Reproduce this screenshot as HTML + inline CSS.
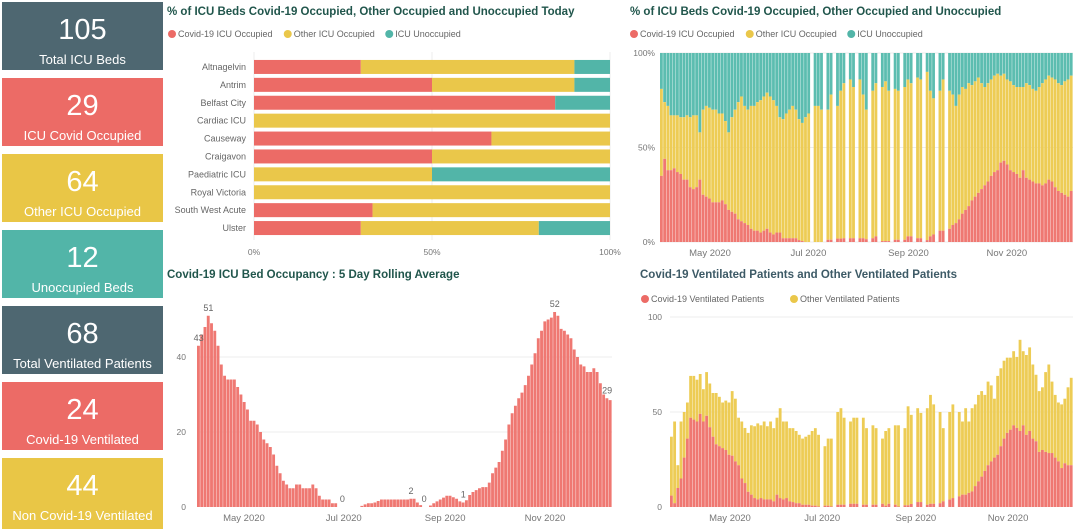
<!DOCTYPE html>
<html><head><meta charset="utf-8">
<style>
html,body{margin:0;padding:0;background:#fff;width:1080px;height:529px;overflow:hidden;font-family:"Liberation Sans",sans-serif}
.card{position:absolute;left:2px;width:161px;color:#fff;text-align:center}
.card .num{position:absolute;left:0;right:0;top:12px;font-size:29px;line-height:32px}
.card .lbl{position:absolute;left:0;right:0;top:50px;font-size:13px;line-height:16px;white-space:nowrap}
svg{position:absolute;left:0;top:0}
</style></head><body>
<div class="card" style="top:2px;height:68px;background:#4e6771"><div class="num">105</div><div class="lbl">Total ICU Beds</div></div>
<div class="card" style="top:78px;height:68px;background:#ec6b66"><div class="num">29</div><div class="lbl">ICU Covid Occupied</div></div>
<div class="card" style="top:154px;height:68px;background:#e9c646"><div class="num">64</div><div class="lbl">Other ICU Occupied</div></div>
<div class="card" style="top:230px;height:68px;background:#52b5a8"><div class="num">12</div><div class="lbl">Unoccupied Beds</div></div>
<div class="card" style="top:306px;height:68px;background:#4e6771"><div class="num">68</div><div class="lbl">Total Ventilated Patients</div></div>
<div class="card" style="top:382px;height:68px;background:#ec6b66"><div class="num">24</div><div class="lbl">Covid-19 Ventilated</div></div>
<div class="card" style="top:458px;height:71px;background:#e9c646"><div class="num">44</div><div class="lbl">Non Covid-19 Ventilated</div></div>

<svg id="s" width="1080" height="529">
<g font-family="Liberation Sans, sans-serif">
<text x="167" y="15" font-size="11.5" font-weight="bold" fill="#21564c">% of ICU Beds Covid-19 Occupied, Other Occupied and Unoccupied Today</text>
<text x="630" y="15" font-size="11.5" font-weight="bold" fill="#21564c">% of ICU Beds Covid-19 Occupied, Other Occupied and Unoccupied</text>
<text x="167" y="278" font-size="11.5" font-weight="bold" fill="#21564c">Covid-19 ICU Bed Occupancy : 5 Day Rolling Average</text>
<text x="640" y="278" font-size="11.5" font-weight="bold" fill="#3d5a66">Covid-19 Ventilated Patients and Other Ventilated Patients</text>
</g>
</svg>
<script>
// ---------- data ----------
const hospitals=['Altnagelvin','Antrim','Belfast City','Cardiac ICU','Causeway','Craigavon','Paediatric ICU','Royal Victoria','South West Acute','Ulster'];
const todayCovid=[30,50,84.6,0,66.7,50,0,0,33.3,30];
const todayOther=[60,40,0,100,33.3,50,50,100,66.7,50];
const todayUnocc=[10,10,15.4,0,0,0,50,0,0,20];
const pctTicks=['0%','50%','100%'];
const pctTickVals=[0,50,100];

const monthLabels=['May 2020','Jul 2020','Sep 2020','Nov 2020'];
const monthDays=[121,182,244,305];

const rollAvg=[43,46,48,51,49,47,43,38,35,34,34,34,32,30,28,26,23,23,22,20,18,17,16,14,11,9,7,6,5,5,6,6,5,5,5,6,5,3,2,2,2,1,1,0,0,0,0,0,0,0,0.3,0.7,1,1,1.2,1.6,2,2,2,2,2,2,2,2,2,2.2,2.2,1.2,0.5,0,0,0.4,1,1.5,2,2.5,3,3,2.6,2.2,1.5,1.2,1.8,3.2,4,4.5,5,5.3,5.3,6.5,9,10.5,12,15,18,22,25,27,29,30.5,32.5,35,38,41,45,47,49.5,50,50.5,52,51,47.5,47,46,45,42,40,38,37.5,36,36,37,36,33,30,29,28.5];
const rollLabelIdx=[0,3,44,65,69,81,109,125];
const rollLabelText=['43','51','0','2','0','1','52','29'];
const rollTicks=[0,20,40];

const covidPct=[35,44,38,38,39,37,36,33,33,29,28,29,33,25,24,23,21,21,21,22,20,17,16,15,12,11,10,9,7,6,6,5,6,7,5,4,5,5,2,2,2,2,2,1,0.5,0,0,null,0,0,0,null,1.2,1.2,null,1.8,1.8,2,null,2,2,null,2,2,1.5,null,2,3,null,0.5,0.5,0.5,null,1.2,1.2,null,1.2,3,3,null,2,2,null,1,3,4,null,6,6,null,7,9,10,12,15,17,19,22,24,26,28,30,32,35,37,38,42,43,41,38,37,36,34,38,34,33,32,31,31,30,31,33,32,29,27,26,25,24,27];
const otherPct=[46,30,34,29,28,30,30,33,34,37,39,38,25,45,48,48,49,49,47,46,44,41,50,55,62,66,62,61,65,66,68,70,71,72,72,71,67,61,63,66,68,70,68,64,62.5,66,68,null,72,72,70,null,68.8,76.8,null,70.2,78.2,82,null,84,80,null,84,76,68.5,null,78,81,null,81.5,84.5,79.5,null,79.8,78.8,null,80.8,83,81,null,85,84,null,89,77,72,null,74,80,null,73,69,62,66,67,64,65,61,61,61,56,52,52,51,51,51,46,46,45,47,46,46,48,44,50,50,49,49,51,54,55,55,55,57,57,57,60,62,61];
const pctAxisTicks=['0%','50%','100%'];

const ventCovid=[6,2,10,15,26,36,47,46,45,49,45,48,42,37,33,32,31,30,27.5,27,24,22,15,12.6,8,6.5,4.7,4,4.7,4,4,4,3,6.5,4.7,4,4.7,3,2.6,2,2,1.2,1.2,1.2,0.7,0.7,0.3,null,0.7,0.7,0.3,null,1.2,1.2,1.2,null,1.7,1.7,1.7,null,1.2,1.2,null,1.2,1.2,null,1.7,0.7,1.7,null,1.2,0.3,null,0.9,0.9,1.6,null,2.6,2.6,null,1.2,1.7,1.7,null,2,3,null,3.9,4.7,null,5.6,6.5,6.5,7.4,8.2,11,13.5,16,19,22,24,26,27.5,32,36,39,40.7,43,41.6,40,43,38,40,36,34.6,29,30,29,28.4,28.4,26,24,20.5,23,22,22];
const ventOther=[31,43,12,30,24,19,22,23,22,21,17,23,23,23,27,26,24,26,27.5,34,33,25,30,29,31,36.5,37.8,40,38.3,41,38.5,41,38.5,40.5,47.3,41,40.3,38.5,38.9,38,36,34.8,35.8,36.8,39.3,40.8,37.7,null,31.3,35.3,35.7,null,48.8,50.8,45.8,null,43.3,45.3,45.3,null,45.8,40.3,null,41.8,40.3,null,34.3,39.3,39.8,null,41.8,42.7,null,40.6,52.1,46.9,null,49.4,46.9,null,50.8,57.3,52.3,null,48,38.5,null,46.1,49.3,null,44.4,38.5,45.5,37.6,43.8,43,45.5,45,40,44,40,31,41.5,41,41,39.6,37.9,39,37.4,48,39,42,44,39,35,32,33,42,46.6,37.6,33,31,33.5,34,41,46];
const ventTicks=[0,50,100];

// ---------- helpers ----------
const NS='http://www.w3.org/2000/svg';
const svg=document.getElementById('s');
const RED='#ec6b66', YEL='#eac74a', TEAL='#52b5a8', GRID='#ececec', LBL='#777';
function el(tag,parent){const e=document.createElementNS(NS,tag);(parent||svg).appendChild(e);return e;}
function rect(x,y,w,h,fill,parent){const r=el('rect',parent);r.setAttribute('x',x);r.setAttribute('y',y);r.setAttribute('width',Math.max(0,w));r.setAttribute('height',Math.max(0,h));r.setAttribute('fill',fill);return r;}
function txt(x,y,s,size,fill,anchor,parent){const t=el('text',parent);t.setAttribute('x',x);t.setAttribute('y',y);t.setAttribute('font-size',size);t.setAttribute('fill',fill);t.setAttribute('text-anchor',anchor||'start');t.setAttribute('font-family','Liberation Sans, sans-serif');t.textContent=s;return t;}
function line(x1,y1,x2,y2,stroke,parent){const l=el('line',parent);l.setAttribute('x1',x1);l.setAttribute('y1',y1);l.setAttribute('x2',x2);l.setAttribute('y2',y2);l.setAttribute('stroke',stroke);l.setAttribute('stroke-width',1);return l;}
function legend(x,y,items,colors){
  let cx=x;
  for(let i=0;i<items.length;i++){
    const c=el('circle');c.setAttribute('cx',cx+4);c.setAttribute('cy',y-3);c.setAttribute('r',4);c.setAttribute('fill',colors[i]);
    
    
    const t=txt(cx+10,y,items[i],9,'#666');
    
    
    cx+=10+items[i].length*4.75+6;
  }
}
function dayScale(d0,d1,x0,x1){return d=>x0+(d-d0)/(d1-d0)*(x1-x0);}
function monthAxis(xs,y){
  for(let i=0;i<monthLabels.length;i++){
    const t=txt(xs(monthDays[i]),y,monthLabels[i],9.5,LBL,'middle');
    
    
  }
}

// ---------- chart 1: today horizontal stacked ----------
legend(168,37,['Covid-19 ICU Occupied','Other ICU Occupied','ICU Unoccupied'],[RED,YEL,TEAL]);
const hx0=254,hx1=610,hy0=58,hstep=17.9,hbh=14;
const hxs=v=>hx0+v/100*(hx1-hx0);
for(let i=0;i<pctTickVals.length;i++){
  const g=line(hxs(pctTickVals[i]),52,hxs(pctTickVals[i]),240,GRID);
  
  
  const t=txt(hxs(pctTickVals[i]),255,pctTicks[i],8.5,LBL,'middle');
  
  
}
for(let i=0;i<hospitals.length;i++){
  const cy=hy0+i*hstep+hstep/2;
  const t=txt(246,cy+3,hospitals[i],9,'#666','end');
  
  
  let acc=0;
  const segs=[todayCovid[i],todayOther[i],todayUnocc[i]], cols=[RED,YEL,TEAL], nm=['covid','other','unoccupied'];
  for(let k=0;k<3;k++){
    if(segs[k]>0){
      const r=rect(hxs(acc),cy-hbh/2,hxs(acc+segs[k])-hxs(acc),hbh,cols[k]);
      
      
    }
    acc+=segs[k];
  }
}

// ---------- chart 2: % trend stacked ----------
legend(630,37,['Covid-19 ICU Occupied','Other ICU Occupied','ICU Unoccupied'],[RED,YEL,TEAL]);
const px0=660,px1=1073,py0=242,py1=53;
const pys=v=>py0+(py1-py0)*v/100;
const pxs=dayScale(90,346,px0,px1);
for(let i=0;i<pctAxisTicks.length;i++){
  const v=pctTickVals[i];
  const g=line(px0,pys(v),px1,pys(v),GRID);
  
  
  const t=txt(655,pys(v)+3,pctAxisTicks[i],8.5,LBL,'end');
  
  
}
{
  const n=covidPct.length, bw=(px1-px0)/n;
  for(let i=0;i<n;i++){
    if(covidPct[i]===null) continue;
    const x=px0+i*bw, w=bw*0.88;
    const u=rect(x,pys(100),w,pys(covidPct[i]+otherPct[i])-pys(100),'#5cbdb0');
    
    
    const o=rect(x,pys(covidPct[i]+otherPct[i]),w,pys(covidPct[i])-pys(covidPct[i]+otherPct[i]),'#edcc55');
    
    
    const c=rect(x,pys(covidPct[i]),w,pys(0)-pys(covidPct[i]),'#ef7872');
    
    
  }
}
monthAxis(pxs,256);

// ---------- chart 3: rolling average ----------
const rx0=197,rx1=612,ry0=507;
const rys=v=>ry0-v*3.75;
const rxs=dayScale(92.3,346,rx0,rx1);
for(let i=0;i<rollTicks.length;i++){
  if(rollTicks[i]>0){
    const g=line(rx0,rys(rollTicks[i]),rx1,rys(rollTicks[i]),GRID);
    
    
  }
  const t=txt(186,rys(rollTicks[i])+3,String(rollTicks[i]),8.5,LBL,'end');
  
  
}
{
  const n=rollAvg.length, bw=(rx1-rx0)/n;
  for(let i=0;i<n;i++){
    const r=rect(rx0+i*bw,rys(rollAvg[i]),bw*0.88,rys(0)-rys(rollAvg[i]),'#ef7872');
    
    
  }
  for(let k=0;k<rollLabelIdx.length;k++){
    const i=rollLabelIdx[k];
    const t=txt(rx0+(i+0.5)*bw,rys(rollAvg[i])-5,rollLabelText[k],9,'#666','middle');
    
    
  }
}
monthAxis(rxs,521);

// ---------- chart 4: ventilated ----------
legend(641,302,['Covid-19 Ventilated Patients','Other Ventilated Patients'],[RED,YEL]);
const vx0=670,vx1=1073,vy0=507;
const vys=v=>vy0-v*1.9;
const vxs=dayScale(81.3,348,vx0,vx1);
for(let i=0;i<ventTicks.length;i++){
  if(ventTicks[i]>0){
    const g=line(vx0,vys(ventTicks[i]),vx1,vys(ventTicks[i]),GRID);
    
    
  }
  const t=txt(662,vys(ventTicks[i])+3,String(ventTicks[i]),8.5,LBL,'end');
  
  
}
{
  const n=ventCovid.length, bw=(vx1-vx0)/n;
  for(let i=0;i<n;i++){
    if(ventCovid[i]===null) continue;
    const x=vx0+i*bw, w=bw*0.88, tot=ventCovid[i]+ventOther[i];
    const o=rect(x,vys(tot),w,vys(ventCovid[i])-vys(tot),'#edcc55');
    
    
    const c=rect(x,vys(ventCovid[i]),w,vys(0)-vys(ventCovid[i]),'#ef7872');
    
    
  }
}
monthAxis(vxs,521);
</script>
</body></html>
